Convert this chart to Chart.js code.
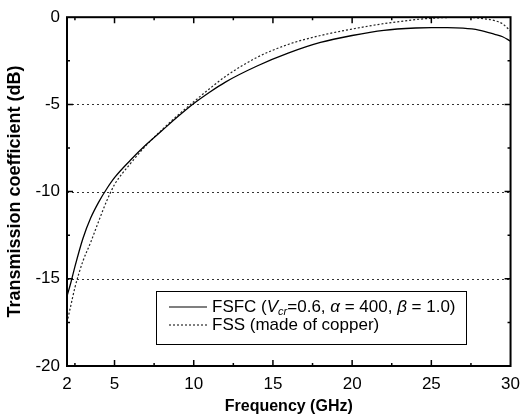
<!DOCTYPE html>
<html lang="en">
<head>
  <meta charset="UTF-8">
  <title>Transmission coefficient</title>
  <script src="https://cdn.jsdelivr.net/npm/chart.js"></script>
  <style>
    body { margin: 0; background: #fff; }
    #wrap { width: 528px; height: 416px; }
  </style>
</head>
<body>
  <div id="wrap"><canvas id="chart" width="528" height="416"></canvas></div>
  <script>
    // frequencies in GHz
    const freq = [2, 2.25, 2.5, 3, 3.5, 4, 4.5, 5, 6, 7, 8, 9, 10, 11, 12, 14, 16, 18, 20, 22, 24, 25, 26, 27, 28, 29, 29.5, 30];
    // FSFC (Vcr=0.6, alpha=400, beta=1.0)
    const fsfc = [-16.0, -15.2, -14.3, -12.7, -11.5, -10.6, -9.85, -9.2, -8.2, -7.3, -6.5, -5.7, -4.95, -4.3, -3.72, -2.8, -2.05, -1.45, -1.05, -0.75, -0.62, -0.6, -0.6, -0.63, -0.74, -0.98, -1.12, -1.38];
    // FSS (made of copper)
    const fss = [-17.5, -16.5, -15.5, -14.0, -12.9, -11.7, -10.55, -9.6, -8.4, -7.35, -6.45, -5.62, -4.85, -4.1, -3.4, -2.3, -1.55, -1.05, -0.68, -0.37, -0.14, -0.06, -0.02, 0, -0.05, -0.2, -0.38, -0.8];
    const xTicks = [2, 5, 10, 15, 20, 25, 30];
    const yGrid = [-5, -10, -15];

    const FONT = "'Liberation Sans', Arial, sans-serif";

    function pts(vals) {
      return freq.map((f, i) => ({ x: f, y: vals[i] }));
    }

    // frame, inward ticks, dotted grid and the legend box
    const extras = {
      id: 'extras',
      beforeDatasetsDraw(chart) {
        const { ctx, chartArea: a, scales: { y } } = chart;
        ctx.save();
        ctx.strokeStyle = '#333';
        ctx.lineWidth = 1;
        ctx.setLineDash([2, 3]);
        yGrid.forEach(v => {
          const py = Math.round(y.getPixelForValue(v)) + 0.5;
          ctx.beginPath();
          ctx.moveTo(a.left, py);
          ctx.lineTo(a.right, py);
          ctx.stroke();
        });
        ctx.restore();
      },
      afterDraw(chart) {
        const { ctx, chartArea: a, scales: { x, y } } = chart;
        ctx.save();
        ctx.strokeStyle = '#000';
        ctx.lineWidth = 2;
        ctx.strokeRect(a.left, a.top, a.right - a.left, a.bottom - a.top);

        ctx.lineWidth = 1.5;
        // x ticks
        for (let v = 2.5; v < 30; v += 2.5) {
          const len = (v % 5 === 0) ? 6 : 3;
          const px = x.getPixelForValue(v);
          ctx.beginPath();
          ctx.moveTo(px, a.bottom); ctx.lineTo(px, a.bottom - len);
          ctx.moveTo(px, a.top); ctx.lineTo(px, a.top + len);
          ctx.stroke();
        }
        // y ticks
        for (let v = -17.5; v < 0; v += 2.5) {
          const len = (v % 5 === 0) ? 6 : 3;
          const py = y.getPixelForValue(v);
          ctx.beginPath();
          ctx.moveTo(a.left, py); ctx.lineTo(a.left + len, py);
          ctx.moveTo(a.right, py); ctx.lineTo(a.right - len, py);
          ctx.stroke();
        }

        // legend
        const L = 156, T = 291, W = 310, H = 53;
        ctx.fillStyle = '#fff';
        ctx.fillRect(L, T, W, H);
        ctx.lineWidth = 1;
        ctx.strokeStyle = '#000';
        ctx.strokeRect(L + 0.5, T + 0.5, W, H);

        const rows = [T + 16, T + 34];
        ctx.lineWidth = 1.2;
        ctx.beginPath();
        ctx.moveTo(169, rows[0]); ctx.lineTo(207, rows[0]);
        ctx.stroke();
        ctx.setLineDash([2, 2]);
        ctx.beginPath();
        ctx.moveTo(169, rows[1]); ctx.lineTo(207, rows[1]);
        ctx.stroke();
        ctx.setLineDash([]);

        ctx.fillStyle = '#000';
        ctx.textBaseline = 'middle';
        ctx.textAlign = 'left';
        const parts = [
          ['FSFC (', '17px ' + FONT, 0],
          ['V', 'italic 17px ' + FONT, 0],
          ['cr', 'italic 11px ' + FONT, 5],
          ['=0.6, ', '17px ' + FONT, 0],
          ['\u03B1', 'italic 17px ' + FONT, 0],
          [' = 400, ', '17px ' + FONT, 0],
          ['\u03B2', 'italic 17px ' + FONT, 0],
          [' = 1.0)', '17px ' + FONT, 0]
        ];
        let tx = 212;
        parts.forEach(([s, f, dy]) => {
          ctx.font = f;
          ctx.fillText(s, tx, rows[0] + dy);
          tx += ctx.measureText(s).width;
        });
        ctx.font = '17px ' + FONT;
        ctx.fillText('FSS (made of copper)', 212, rows[1]);
        ctx.restore();
      }
    };

    new Chart(document.getElementById('chart'), {
      type: 'scatter',
      data: {
        datasets: [
          {
            label: 'FSFC',
            data: pts(fsfc),
            showLine: true,
            borderColor: '#000',
            borderWidth: 1.3,
            pointRadius: 0,
            cubicInterpolationMode: 'monotone'
          },
          {
            label: 'FSS (made of copper)',
            data: pts(fss),
            showLine: true,
            borderColor: '#222',
            borderWidth: 1.2,
            borderDash: [2, 2],
            pointRadius: 0,
            cubicInterpolationMode: 'monotone'
          }
        ]
      },
      options: {
        responsive: false,
        animation: false,
        layout: { padding: { top: 14, right: 11, left: 0, bottom: 0 } },
        plugins: {
          legend: { display: false },
          tooltip: { enabled: false }
        },
        scales: {
          x: {
            type: 'linear',
            min: 2,
            max: 30,
            afterBuildTicks: s => { s.ticks = xTicks.map(v => ({ value: v })); },
            afterFit: s => { s.height = 50; },
            grid: { display: false, drawTicks: false },
            border: { display: false },
            ticks: {
              color: '#000',
              font: { family: FONT, size: 17 },
              padding: 8,
              maxRotation: 0,
              autoSkip: false
            },
            title: {
              display: true,
              text: 'Frequency (GHz)',
              color: '#000',
              font: { family: FONT, size: 16, weight: 'bold' },
              padding: { top: 0, bottom: 0 }
            }
          },
          y: {
            min: -20,
            max: 0,
            afterFit: s => { s.width = 67; },
            grid: { display: false, drawTicks: false },
            border: { display: false },
            ticks: {
              stepSize: 5,
              color: '#000',
              font: { family: FONT, size: 17 },
              padding: 7
            },
            title: {
              display: true,
              text: 'Transmission coefficient (dB)',
              color: '#000',
              font: { family: FONT, size: 18, weight: 'bold' },
              padding: { top: 4, bottom: 0 }
            }
          }
        }
      },
      plugins: [extras]
    });
  </script>
</body>
</html>
